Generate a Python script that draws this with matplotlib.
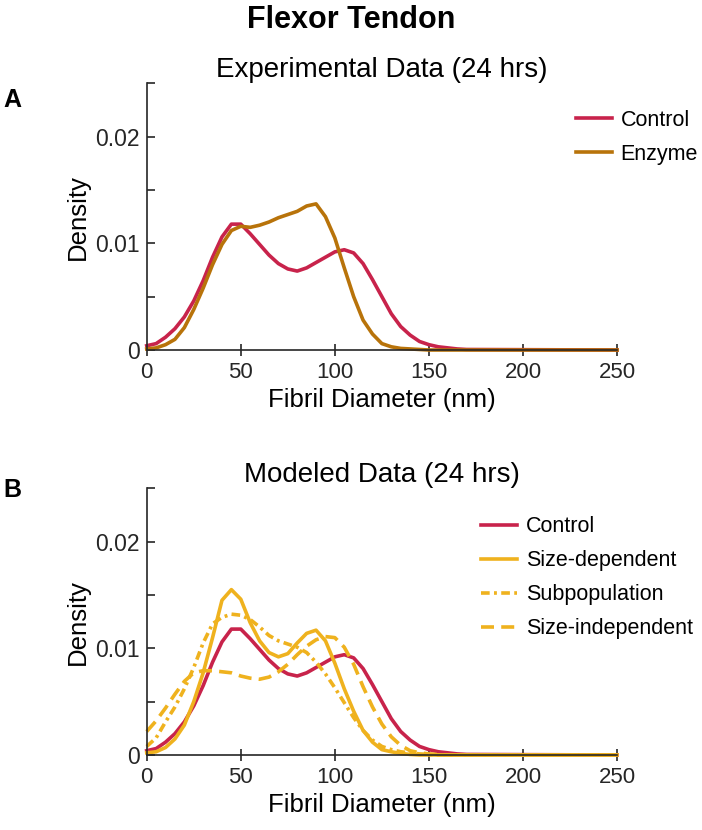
import matplotlib
matplotlib.use("Agg")
import matplotlib.pyplot as plt

plt.rcParams['font.family'] = ['Liberation Sans', 'DejaVu Sans']

# fibril diameter grid (nm)
diameter = [0, 5, 10, 15, 20, 25, 30, 35, 40, 45, 50, 55, 60, 65, 70, 75, 80, 85,
            90, 95, 100, 105, 110, 115, 120, 125, 130, 135, 140, 145, 150, 155,
            160, 165, 170, 250]

# density values
control = [0.0004, 0.0006, 0.0012, 0.0020, 0.0031, 0.0046, 0.0065, 0.0087, 0.0106,
           0.0118, 0.0118, 0.0109, 0.0099, 0.0089, 0.0081, 0.0076, 0.0074, 0.0077,
           0.0082, 0.0087, 0.0092, 0.0094, 0.0091, 0.0081, 0.0066, 0.0050, 0.0034,
           0.0022, 0.0014, 0.0008, 0.0005, 0.0003, 0.0002, 0.0001, 0.00005, 0.0]
enzyme = [0.0001, 0.0002, 0.0005, 0.0010, 0.0021, 0.0038, 0.0058, 0.0080, 0.0099,
          0.0112, 0.0116, 0.0115, 0.0117, 0.0120, 0.0124, 0.0127, 0.0130, 0.0135,
          0.0137, 0.0125, 0.0105, 0.0077, 0.0050, 0.0028, 0.0015, 0.0006, 0.0003,
          0.00015, 0.0001, 0.00005, 0.0, 0.0, 0.0, 0.0, 0.0, 0.0]
size_dep = [0.0002, 0.0003, 0.0007, 0.0015, 0.0028, 0.0050, 0.0077, 0.0110, 0.0145,
            0.0155, 0.0146, 0.0124, 0.0107, 0.0096, 0.0092, 0.0095, 0.0105, 0.0114,
            0.0117, 0.0107, 0.0086, 0.0062, 0.0041, 0.0023, 0.0012, 0.0005, 0.0003,
            0.00015, 0.00005, 0.0, 0.0, 0.0, 0.0, 0.0, 0.0, 0.0]
subpop = [0.0008, 0.0016, 0.0031, 0.0045, 0.0062, 0.0082, 0.0105, 0.0123, 0.0129,
          0.0132, 0.0131, 0.0127, 0.0120, 0.0112, 0.0107, 0.0104, 0.0101, 0.0096,
          0.0087, 0.0076, 0.0063, 0.0049, 0.0035, 0.0023, 0.0014, 0.0008, 0.0005,
          0.0003, 0.0002, 0.0001, 0.00005, 0.0, 0.0, 0.0, 0.0, 0.0]
size_indep = [0.0022, 0.0032, 0.0044, 0.0057, 0.0069, 0.0077, 0.0079, 0.0079, 0.0078,
              0.0077, 0.0074, 0.0072, 0.0071, 0.0073, 0.0078, 0.0085, 0.0094, 0.0102,
              0.0108, 0.0111, 0.0110, 0.0101, 0.0085, 0.0064, 0.0045, 0.0029, 0.0017,
              0.0009, 0.0004, 0.0002, 0.0001, 0.00005, 0.0, 0.0, 0.0, 0.0]

x_ticks = [0, 50, 100, 150, 200, 250]
y_ticks = [0, 0.005, 0.01, 0.015, 0.02, 0.025]
y_ticklabels = ['0', '', '0.01', '', '0.02', '']

red = '#C8234B'
brown = '#B8730A'
yellow = '#EFB21E'
axcol = '#262626'
lw = 2.6

fig = plt.figure(figsize=(7.02, 8.3), dpi=100)
axA = fig.add_axes([0.209, 0.5783, 0.67, 0.3213])
axB = fig.add_axes([0.209, 0.0904, 0.67, 0.3213])


def style(ax, title):
    ax.set_xlim(0, 250)
    ax.set_ylim(0, 0.025)
    ax.set_xticks(x_ticks)
    ax.set_yticks(y_ticks)
    ax.set_yticklabels(y_ticklabels)
    ax.spines['top'].set_visible(False)
    ax.spines['right'].set_visible(False)
    for s in ['left', 'bottom']:
        ax.spines[s].set_color(axcol)
        ax.spines[s].set_linewidth(1.2)
    ax.tick_params(axis='x', direction='inout', length=9, width=1.2, colors=axcol,
                   labelsize=16, pad=4)
    ax.tick_params(axis='y', direction='in', length=6, width=1.2, colors=axcol,
                   labelsize=16.5, pad=5)
    ax.set_xlabel('Fibril Diameter (nm)', fontsize=18.5, labelpad=4)
    ax.set_ylabel('Density', fontsize=18.5, labelpad=4)
    ax.set_title(title, fontsize=20, pad=2)


legend_kw = dict(loc='upper left', frameon=False, fontsize=15.5, handlelength=1.67,
                 handletextpad=0.4, labelspacing=0.6, borderpad=0, borderaxespad=0)

axA.plot(diameter, control, color=red, lw=lw, label='Control', clip_on=False)
axA.plot(diameter, enzyme, color=brown, lw=lw, label='Enzyme', clip_on=False)
style(axA, 'Experimental Data (24 hrs)')
axA.legend(bbox_to_anchor=(0.913, 0.90), **legend_kw)

axB.plot(diameter, control, color=red, lw=lw, label='Control', clip_on=False)
axB.plot(diameter, size_dep, color=yellow, lw=lw, label='Size-dependent', clip_on=False)
axB.plot(diameter, subpop, color=yellow, lw=lw, dashes=(2.4, 1.2, 0.8, 1.2),
         label='Subpopulation', clip_on=False)
axB.plot(diameter, size_indep, color=yellow, lw=lw, dashes=(3.6, 2.0),
         label='Size-independent', clip_on=False)
style(axB, 'Modeled Data (24 hrs)')
axB.legend(bbox_to_anchor=(0.711, 0.895), **legend_kw)

fig.text(0.5, 1 - 20 / 830, 'Flexor Tendon', fontsize=22, fontweight='bold',
         ha='center', va='center')
fig.text(12 / 702, 1 - 100 / 830, 'A', fontsize=18, fontweight='bold',
         ha='center', va='center')
fig.text(12 / 702, 1 - 490 / 830, 'B', fontsize=18, fontweight='bold',
         ha='center', va='center')

fig.savefig('out.png', dpi=100)
